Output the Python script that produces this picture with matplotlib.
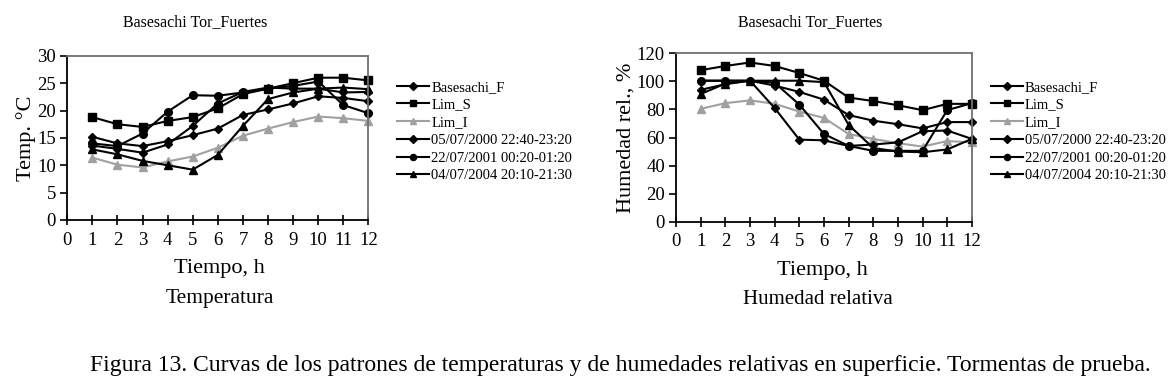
import matplotlib
matplotlib.use("Agg")
import matplotlib.pyplot as plt
from matplotlib.lines import Line2D

hours = [1, 2, 3, 4, 5, 6, 7, 8, 9, 10, 11, 12]
series_names = ["Basesachi_F", "Lim_S", "Lim_I",
                "05/07/2000 22:40-23:20", "22/07/2001 00:20-01:20",
                "04/07/2004 20:10-21:30"]

# Temperature (°C)
temp_basesachi_f = [15.2, 14.0, 13.5, 14.4, 15.5, 16.7, 19.2, 20.2, 21.3, 22.6, 22.3, 21.7]
temp_lim_s = [18.8, 17.5, 17.0, 18.1, 18.8, 20.4, 23.0, 24.0, 25.0, 26.0, 26.0, 25.5]
temp_lim_i = [11.4, 10.1, 9.6, 10.7, 11.6, 13.2, 15.4, 16.7, 17.9, 18.9, 18.6, 18.1]
temp_2000 = [13.6, 13.0, 12.3, 13.8, 17.2, 21.3, 23.4, 24.2, 24.0, 24.0, 23.3, 23.4]
temp_2001 = [14.0, 13.5, 15.8, 19.8, 22.8, 22.7, 23.3, 24.0, 24.5, 25.3, 21.0, 19.5]
temp_2004 = [12.9, 12.0, 10.8, 10.0, 9.2, 11.9, 17.2, 22.1, 23.3, 24.0, 24.2, 23.9]

# Relative humidity (%)
hum_basesachi_f = [94.0, 98.0, 100.5, 97.0, 92.5, 87.0, 76.0, 72.0, 69.5, 66.5, 71.0, 71.0]
hum_lim_s = [108.0, 111.0, 113.5, 111.0, 106.0, 100.5, 88.5, 86.0, 83.0, 79.5, 84.0, 84.0]
hum_lim_i = [80.5, 84.5, 86.5, 84.0, 78.5, 74.0, 62.5, 59.0, 56.0, 53.5, 57.5, 56.5]
hum_2000 = [100.5, 100.5, 100.5, 81.0, 58.5, 58.0, 54.0, 55.0, 56.5, 64.5, 65.0, 59.0]
hum_2001 = [100.5, 100.5, 100.5, 99.0, 83.5, 62.5, 54.0, 50.5, 50.5, 50.5, 79.5, 84.5]
hum_2004 = [91.0, 98.5, 100.5, 100.5, 100.5, 99.5, 69.0, 52.5, 50.0, 49.5, 51.5, 59.0]

temp_series = [temp_basesachi_f, temp_lim_s, temp_lim_i, temp_2000, temp_2001, temp_2004]
hum_series = [hum_basesachi_f, hum_lim_s, hum_lim_i, hum_2000, hum_2001, hum_2004]

colors = ["black", "black", "#a0a0a0", "black", "black", "black"]
markers = ["D", "s", "^", "D", "o", "^"]
msizes = [4.5, 5.5, 5.5, 4.5, 5.5, 6]

FONT = "Liberation Serif"
plt.rcParams["font.family"] = FONT

fig = plt.figure(figsize=(11.75, 3.83), dpi=100)


def style_axes(ax, ymax, ystep):
    ax.set_xlim(0, 12)
    ax.set_ylim(0, ymax)
    ax.set_xticks(range(0, 13))
    ax.set_yticks(range(0, ymax + 1, ystep))
    for s in ("left", "bottom"):
        ax.spines[s].set_color("black")
        ax.spines[s].set_linewidth(1.3)
    for s in ("top", "right"):
        ax.spines[s].set_color("#707070")
        ax.spines[s].set_linewidth(1.3)
    ax.tick_params(axis="x", direction="inout", length=7, width=1.2,
                   labelsize=13.5, pad=5)
    ax.tick_params(axis="y", direction="out", length=5, width=1.2,
                   labelsize=13.5, pad=3)


# Left chart: temperature
ax1 = fig.add_axes([0.0572, 0.4256, 0.2564, 0.4287])
for ys, c, m, ms in zip(temp_series, colors, markers, msizes):
    ax1.plot(hours, ys, color=c, marker=m, markersize=ms, linewidth=1.5,
             markeredgecolor=c, markerfacecolor=c, clip_on=False)
style_axes(ax1, 30, 5)
ax1.set_ylabel("Temp. °C", fontsize=16, labelpad=1)

# Right chart: relative humidity
ax2 = fig.add_axes([0.5754, 0.4212, 0.2517, 0.4395])
for ys, c, m, ms in zip(hum_series, colors, markers, msizes):
    ax2.plot(hours, ys, color=c, marker=m, markersize=ms, linewidth=1.5,
             markeredgecolor=c, markerfacecolor=c, clip_on=False)
style_axes(ax2, 120, 20)
ax2.set_ylabel("Humedad rel., %", fontsize=16, labelpad=1)

# Legends
handles = [Line2D([0], [0], color=c, marker=m, markersize=ms * 0.8, linewidth=1.5)
           for c, m, ms in zip(colors, markers, msizes)]
for x0 in (0.338, 0.843):
    fig.legend(handles, series_names, loc="upper left",
               bbox_to_anchor=(x0, 0.7896), frameon=False, fontsize=10.5,
               handlelength=2.2, handletextpad=0.15, labelspacing=0.31,
               borderpad=0, borderaxespad=0)

# Titles and labels
fig.text(195 / 1175, 1 - 22 / 383, "Basesachi Tor_Fuertes", ha="center", va="center", fontsize=11.5)
fig.text(810 / 1175, 1 - 22 / 383, "Basesachi Tor_Fuertes", ha="center", va="center", fontsize=11.5)
fig.text(219 / 1175, 1 - 268 / 383, "Tiempo, h", ha="center", va="center", fontsize=16)
fig.text(822 / 1175, 1 - 270 / 383, "Tiempo, h", ha="center", va="center", fontsize=16)
fig.text(220 / 1175, 1 - 299 / 383, "Temperatura", ha="center", va="center", fontsize=15.5)
fig.text(818 / 1175, 1 - 300 / 383, "Humedad relativa", ha="center", va="center", fontsize=15)
fig.text(620 / 1175, 1 - 366 / 383,
         "Figura 13. Curvas de los patrones de temperaturas y de humedades relativas en superficie. Tormentas de prueba.",
         ha="center", va="center", fontsize=17)

fig.savefig("out.png", dpi=100)
